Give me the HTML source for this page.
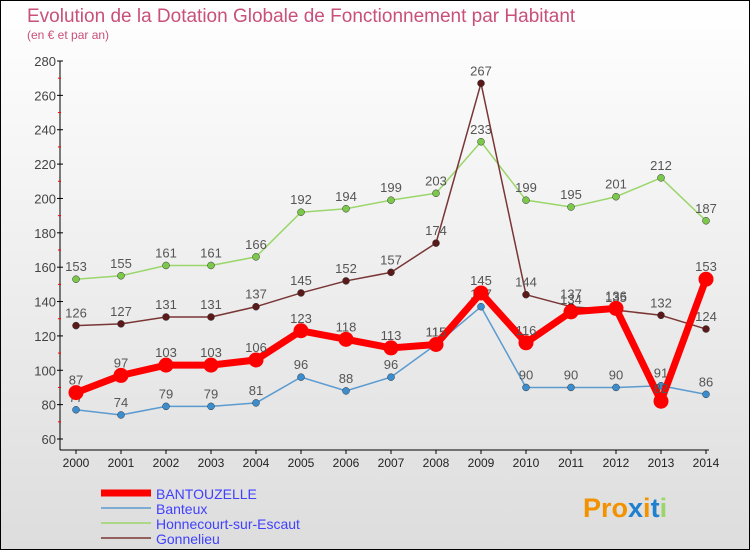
<!DOCTYPE html>
<html><head><meta charset="utf-8"><style>
body{margin:0}
#c{width:748px;height:548px;border:1px solid #000;background:linear-gradient(#fff,#ddd);position:relative;font-family:"Liberation Sans",sans-serif;overflow:hidden}
</style></head><body>
<div id="c">
<svg id="s" width="748" height="548"></svg>
</div>
<script>
const years=["2000","2001","2002","2003","2004","2005","2006","2007","2008","2009","2010","2011","2012","2013","2014"];
const bantouzelle=[87,97,103,103,106,123,118,113,115,145,116,134,136,82,153];
const banteux=[77,74,79,79,81,96,88,96,115,137,90,90,90,91,86];
const honnecourt=[153,155,161,161,166,192,194,199,203,233,199,195,201,212,187];
const gonnelieu=[126,127,131,131,137,145,152,157,174,267,144,137,135,132,124];
const yTicks=[60,80,100,120,140,160,180,200,220,240,260,280];
const seriesNames=["BANTOUZELLE","Banteux","Honnecourt-sur-Escaut","Gonnelieu"];
const NS="http://www.w3.org/2000/svg";
const s=document.getElementById('s');
const X=i=>75+i*45, Y=v=>438-(v-60)*(378/220);
function el(t,a,p){const e=document.createElementNS(NS,t);for(const k in a)e.setAttribute(k,a[k]);(p||s).appendChild(e);return e;}
let t=el('text',{x:26,y:21,fill:'#c8507a','font-size':19});t.textContent='Evolution de la Dotation Globale de Fonctionnement par Habitant';

t=el('text',{x:26,y:38,fill:'#c8507a','font-size':12});t.textContent='(en € et par an)';

el('line',{x1:59,y1:Y(280),x2:59,y2:449,stroke:'#000'});
el('line',{x1:59,y1:449,x2:708,y2:449,stroke:'#000'});
yTicks.forEach((v,i)=>{
 el('line',{x1:56,x2:62,y1:Y(v),y2:Y(v),stroke:'#000'});
 if(i<yTicks.length-1)el('line',{x1:57,x2:60,y1:Y(v+10),y2:Y(v+10),stroke:'red'});
 const tt=el('text',{x:55,y:Y(v)+5,'text-anchor':'end','font-size':13,fill:'#444'});tt.textContent=v;
 
});
years.forEach((y,i)=>{
 el('line',{x1:X(i),x2:X(i),y1:449,y2:453,stroke:'#000'});
 const tt=el('text',{x:X(i),y:466,'text-anchor':'middle','font-size':12,fill:'#222'});tt.textContent=y;
 
});
function series(d,col,dot,w,r,name){
 const g=el('g',{});
 
 el('polyline',{points:d.map((v,i)=>X(i)+','+Y(v)).join(' '),fill:'none',stroke:col,'stroke-width':w,'stroke-linejoin':'round'},g);
 d.forEach((v,i)=>{
  el('circle',{cx:X(i),cy:Y(v),r:r,fill:dot,stroke:r>5?'none':'#333','stroke-width':0.5},g);
  const tt=el('text',{x:X(i),y:Y(v)-8,'text-anchor':'middle','font-size':13,fill:'#555'},g);tt.textContent=v;
 });
}
series(banteux,'#5b9bd0','#3a8ed0',1.5,3.5,'series-banteux');
series(honnecourt,'#9ad66a','#7cc84a',1.5,3.5,'series-honnecourt');
series(gonnelieu,'#7a3535','#5a1a1a',1.5,3.5,'series-gonnelieu');
series(bantouzelle,'#ff0000','#ff0000',7,7.5,'series-bantouzelle');
const lc=['#ff0000','#5b9bd0','#9ad66a','#7a3535'],lw=[7,1.5,1.5,1.5];
seriesNames.forEach((n,i)=>{
 const g=el('g',{});
 const y=492+i*15;
 el('line',{x1:100,x2:150,y1:y,y2:y,stroke:lc[i],'stroke-width':lw[i]},g);
 const tt=el('text',{x:155,y:y+6,'font-size':14,fill:'#4040ff'},g);tt.textContent=n;
});
t=el('text',{x:582,y:516,'font-size':27,'font-weight':'bold',fill:'#f39200'});

t.innerHTML='Pro<tspan fill="#2080d0">x</tspan><tspan fill="#f39200">i</tspan><tspan fill="#2080d0">t</tspan><tspan fill="#9ad66a">i</tspan>';
</script>
</body></html>
